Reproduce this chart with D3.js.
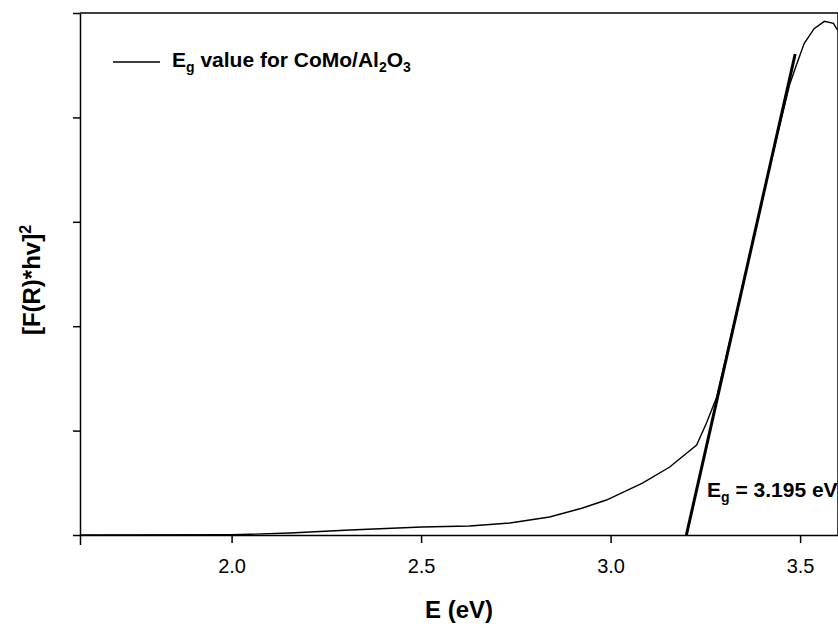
<!DOCTYPE html>
<html>
<head>
<meta charset="utf-8">
<script src="https://cdn.jsdelivr.net/npm/d3@7"></script>
<style>
	body { margin: 0; background: #fff; }
	text { font-family: "Liberation Sans", Arial, sans-serif; fill: #000; }
</style>
</head>
<body>
<svg id="chart"></svg>
<script>
	//資料
	var energy = [1.6, 2.0, 2.048, 2.154, 2.312, 2.502, 2.628, 2.734, 2.839, 2.926, 2.989, 3.084, 3.156, 3.227, 3.253, 3.280, 3.340, 3.419, 3.472, 3.490, 3.511, 3.537, 3.564, 3.588, 3.598];
	var signal = [0, 0.003, 0.007, 0.019, 0.048, 0.077, 0.086, 0.115, 0.172, 0.259, 0.335, 0.498, 0.651, 0.862, 1.073, 1.322, 2.251, 3.515, 4.31, 4.50, 4.71, 4.85, 4.92, 4.90, 4.84];
	var tangentX = [3.2, 3.487];
	var tangentY = [0, 4.607];
	var xTicks = [1.6, 2.0, 2.5, 3.0, 3.5];
	var yTicks = [0, 1, 2, 3, 4, 5];

	var margin = {
		top: 13,
		right: 0,
		bottom: 93,
		left: 80
	};
	var width = 838 - margin.left - margin.right;
	var height = 535 - margin.top;

	var svg = d3.select("#chart")
		.attr("width", 838)
		.attr("height", 628);

	var g = svg.append("g")
		.attr("transform", "translate(" + margin.left + "," + margin.top + ")");

	var x = d3.scaleLinear()
		.domain([1.6, 3.6])
		.range([0, width]);

	var y = d3.scaleLinear()
		.domain([0, 5])
		.range([height, 0]);

	//外框 (上、右)
	g.append("path")
		.attr("d", "M0,0H" + width + "V" + height)
		.attr("fill", "none")
		.attr("stroke", "#000")
		.attr("stroke-width", 1.5);

	//axis
	var xAxis = g.append("g")
		.attr("class", "axis axis--x")
		.attr("transform", "translate(0," + height + ")")
		.call(d3.axisBottom(x)
			.tickValues(xTicks)
			.tickSize(8)
			.tickSizeOuter(0)
			.tickFormat(function(d) {
				return d === 1.6 ? "" : d3.format(".1f")(d);
			}));

	xAxis.selectAll("text")
		.attr("y", 38)
		.attr("dy", 0)
		.style("font-size", "20px");

	var yAxis = g.append("g")
		.attr("class", "axis axis--y")
		.call(d3.axisLeft(y)
			.tickValues(yTicks)
			.tickSize(7)
			.tickSizeOuter(0)
			.tickFormat(""));

	svg.selectAll(".axis path, .axis line")
		.attr("stroke", "#000")
		.attr("stroke-width", 1.5);
	svg.selectAll(".axis--x line").filter(function(d) { return d === 1.6; })
		.attr("y2", 10);

	//線
	var line = d3.line()
		.x(function(d) { return x(d[0]); })
		.y(function(d) { return y(d[1]); });

	g.append("path")
		.datum(d3.zip(energy, signal))
		.attr("fill", "none")
		.attr("stroke", "#000")
		.attr("stroke-width", 1.4)
		.attr("d", line);

	g.append("path")
		.datum(d3.zip(tangentX, tangentY))
		.attr("fill", "none")
		.attr("stroke", "#000")
		.attr("stroke-width", 3)
		.attr("d", line);

	//labels
	svg.append("text")
		.attr("x", margin.left + width / 2)
		.attr("y", 618)
		.attr("text-anchor", "middle")
		.style("font-size", "24px")
		.style("font-weight", "bold")
		.text("E (eV)");

	var yt = svg.append("text")
		.attr("transform", "translate(40," + (margin.top + height / 2 + 6) + ") rotate(-90)")
		.attr("text-anchor", "middle")
		.style("font-size", "24px")
		.style("font-weight", "bold");
	yt.append("tspan").text("[F(R)*hv]");
	yt.append("tspan").attr("dy", -9).style("font-size", "16px").text("2");

	//legend
	svg.append("line")
		.attr("x1", 113).attr("x2", 160)
		.attr("y1", 62).attr("y2", 62)
		.attr("stroke", "#000")
		.attr("stroke-width", 1.4);

	var lg = svg.append("text")
		.attr("x", 172)
		.attr("y", 67)
		.style("font-size", "21px")
		.style("font-weight", "bold");
	lg.append("tspan").text("E");
	lg.append("tspan").attr("dy", 5).style("font-size", "14px").text("g");
	lg.append("tspan").attr("dy", -5).text(" value for CoMo/Al");
	lg.append("tspan").attr("dy", 5).style("font-size", "14px").text("2");
	lg.append("tspan").attr("dy", -5).text("O");
	lg.append("tspan").attr("dy", 5).style("font-size", "14px").text("3");

	var eg = svg.append("text")
		.attr("x", 707)
		.attr("y", 497)
		.style("font-size", "21px")
		.style("font-weight", "bold");
	eg.append("tspan").text("E");
	eg.append("tspan").attr("dy", 5).style("font-size", "14px").text("g");
	eg.append("tspan").attr("dy", -5).text(" = 3.195 eV");
</script>
</body>
</html>
